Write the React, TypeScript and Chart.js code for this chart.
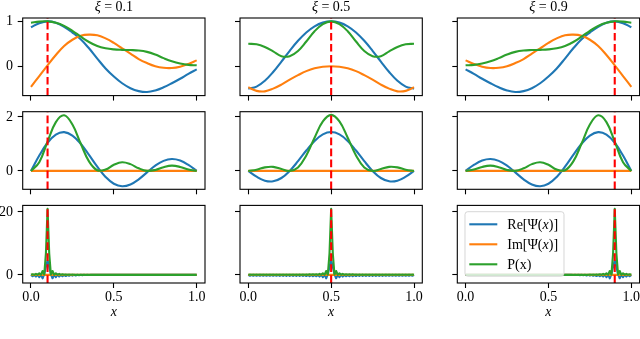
import React, { useEffect, useRef } from 'react';
import { Chart, registerables } from 'chart.js';

Chart.register(...registerables);

// ---------------- data ----------------
const XI_VALUES = [0.1, 0.5, 0.9];
const X_TICKS = [0, 0.5, 1];
const X_TICK_LABELS = ['0.0', '0.5', '1.0'];
const Y_TICKS = [[0, 1], [0, 2], [0, 20]];
const Y_TICK_LABELS = [['0', '1'], ['0', '2'], ['0', '20']];
const Y_LIMITS = [[-0.655, 1.075], [-0.68, 2.19], [-2.6, 22.1]];
const X_LIMITS = [-0.05, 1.05];
const X_AXIS_LABEL = 'x';
// legend labels: [text, italic]
const LEGEND_LABELS: [string, boolean][][] = [
  [['Re[Ψ(', false], ['x', true], [')]', false]],
  [['Im[Ψ(', false], ['x', true], [')]', false]],
  [['P(x)', false]],
];

const X21 = [0, 0.05, 0.1, 0.15, 0.2, 0.25, 0.3, 0.35, 0.4, 0.45, 0.5, 0.55, 0.6, 0.65, 0.7, 0.75, 0.8, 0.85, 0.9, 0.95, 1];
const X101 = [
  0, 0.01, 0.02, 0.03, 0.04, 0.05, 0.06, 0.07, 0.08, 0.09,
  0.1, 0.11, 0.12, 0.13, 0.14, 0.15, 0.16, 0.17, 0.18, 0.19,
  0.2, 0.21, 0.22, 0.23, 0.24, 0.25, 0.26, 0.27, 0.28, 0.29,
  0.3, 0.31, 0.32, 0.33, 0.34, 0.35, 0.36, 0.37, 0.38, 0.39,
  0.4, 0.41, 0.42, 0.43, 0.44, 0.45, 0.46, 0.47, 0.48, 0.49,
  0.5, 0.51, 0.52, 0.53, 0.54, 0.55, 0.56, 0.57, 0.58, 0.59,
  0.6, 0.61, 0.62, 0.63, 0.64, 0.65, 0.66, 0.67, 0.68, 0.69,
  0.7, 0.71, 0.72, 0.73, 0.74, 0.75, 0.76, 0.77, 0.78, 0.79,
  0.8, 0.81, 0.82, 0.83, 0.84, 0.85, 0.86, 0.87, 0.88, 0.89,
  0.9, 0.91, 0.92, 0.93, 0.94, 0.95, 0.96, 0.97, 0.98, 0.99,
  1,
];

// ---- row 1 ----
const RE_R1C1 = [0.87, 0.96, 1.0, 0.97, 0.88, 0.75, 0.6, 0.4, 0.17, -0.05, -0.23, -0.38, -0.49, -0.555, -0.575, -0.54, -0.47, -0.38, -0.28, -0.17, -0.07];
const IM_R1C1 = [-0.46, -0.22, 0.02, 0.25, 0.45, 0.59, 0.68, 0.705, 0.69, 0.62, 0.52, 0.4, 0.28, 0.16, 0.07, 0.0, -0.035, -0.04, -0.01, 0.05, 0.13];
const P_R1C1 = [0.97, 0.995, 1.0, 0.97, 0.9, 0.79, 0.66, 0.54, 0.45, 0.4, 0.375, 0.365, 0.36, 0.35, 0.32, 0.26, 0.18, 0.11, 0.06, 0.03, 0.02];

const RE_R1C2 = [-0.5, -0.454, -0.324, -0.13, 0.103, 0.344, 0.567, 0.752, 0.889, 0.972, 1.0, 0.972, 0.889, 0.752, 0.567, 0.344, 0.103, -0.13, -0.324, -0.454, -0.5];
const IM_R1C2 = [-0.47, -0.55, -0.56, -0.5, -0.41, -0.3, -0.2, -0.11, -0.045, -0.01, 0, -0.01, -0.045, -0.11, -0.2, -0.3, -0.41, -0.5, -0.56, -0.55, -0.47];
const P_R1C2 = [0.5, 0.49, 0.43, 0.33, 0.223, 0.225, 0.34, 0.55, 0.78, 0.94, 1.0, 0.94, 0.78, 0.55, 0.34, 0.225, 0.223, 0.33, 0.43, 0.49, 0.5];

const RE_R1C3 = [-0.07, -0.17, -0.28, -0.38, -0.47, -0.54, -0.575, -0.555, -0.49, -0.38, -0.23, -0.05, 0.17, 0.4, 0.6, 0.75, 0.88, 0.97, 1.0, 0.96, 0.87];
const IM_R1C3 = [0.13, 0.05, -0.01, -0.04, -0.035, 0.0, 0.07, 0.16, 0.28, 0.4, 0.52, 0.62, 0.69, 0.705, 0.68, 0.59, 0.45, 0.25, 0.02, -0.22, -0.46];
const P_R1C3 = [0.02, 0.03, 0.06, 0.11, 0.18, 0.26, 0.32, 0.35, 0.36, 0.365, 0.375, 0.4, 0.45, 0.54, 0.66, 0.79, 0.9, 0.97, 1.0, 0.995, 0.97];

// ---- row 2 ----
const IM_R2 = [0, 0, 0, 0, 0, 0, 0, 0, 0, 0, 0, 0, 0, 0, 0, 0, 0, 0, 0, 0, 0];
const RE_R2C1 = [0, 0.567, 1.041, 1.344, 1.435, 1.309, 1.006, 0.593, 0.156, -0.222, -0.475, -0.567, -0.501, -0.31, -0.056, 0.193, 0.372, 0.441, 0.384, 0.222, 0];
const P_R2C1 = [0, 0.322, 1.083, 1.806, 2.059, 1.714, 1.012, 0.352, 0.024, 0.049, 0.226, 0.322, 0.251, 0.096, 0.003, 0.037, 0.138, 0.194, 0.147, 0.049, 0];
const RE_R2C2 = [0, -0.214, -0.36, -0.384, -0.262, 0, 0.36, 0.754, 1.108, 1.353, 1.44, 1.353, 1.108, 0.754, 0.36, 0, -0.262, -0.384, -0.36, -0.214, 0];
const P_R2C2 = [0, 0.046, 0.13, 0.148, 0.069, 0, 0.13, 0.569, 1.228, 1.83, 2.074, 1.83, 1.228, 0.569, 0.13, 0, 0.069, 0.148, 0.13, 0.046, 0];
const RE_R2C3 = [0, 0.222, 0.384, 0.441, 0.372, 0.193, -0.056, -0.31, -0.501, -0.567, -0.475, -0.222, 0.156, 0.593, 1.006, 1.309, 1.435, 1.344, 1.041, 0.567, 0];
const P_R2C3 = [0, 0.049, 0.147, 0.194, 0.138, 0.037, 0.003, 0.096, 0.251, 0.322, 0.226, 0.049, 0.024, 0.352, 1.012, 1.714, 2.059, 1.806, 1.083, 0.322, 0];

// ---- row 3 ----
const IM_R3 = [
  0, 0, 0, 0, 0, 0, 0, 0, 0, 0,
  0, 0, 0, 0, 0, 0, 0, 0, 0, 0,
  0, 0, 0, 0, 0, 0, 0, 0, 0, 0,
  0, 0, 0, 0, 0, 0, 0, 0, 0, 0,
  0, 0, 0, 0, 0, 0, 0, 0, 0, 0,
  0, 0, 0, 0, 0, 0, 0, 0, 0, 0,
  0, 0, 0, 0, 0, 0, 0, 0, 0, 0,
  0, 0, 0, 0, 0, 0, 0, 0, 0, 0,
  0, 0, 0, 0, 0, 0, 0, 0, 0, 0,
  0, 0, 0, 0, 0, 0, 0, 0, 0, 0,
  0,
];
const RE_R3C1 = [
  0, -0.45, 0, -0.55, 0.05, -0.7, 0.05, -1.1, 0.25, 2.6,
  4.58, 2.6, 0.25, -1.1, 0.05, -0.7, 0.05, -0.55, 0, -0.45,
  0, -0.38, 0, -0.3, 0, -0.24, 0, -0.18, 0, -0.13,
  0, -0.09, 0, -0.06, 0, -0.03, 0, 0, 0, 0,
  0, 0, 0, 0, 0, 0, 0, 0, 0, 0,
  0, 0, 0, 0, 0, 0, 0, 0, 0, 0,
  0, 0, 0, 0, 0, 0, 0, 0, 0, 0,
  0, 0, 0, 0, 0, 0, 0, 0, 0, 0,
  0, 0, 0, 0, 0, 0, 0, 0, 0, 0,
  0, 0, 0, 0, 0, 0, 0, 0, 0, 0,
  0,
];
const P_R3C1 = [
  0, 0.2, 0, 0.3, 0, 0.49, 0, 1.21, 0.06, 6.76,
  21.0, 6.76, 0.06, 1.21, 0, 0.49, 0, 0.3, 0, 0.2,
  0, 0.14, 0, 0.09, 0, 0.06, 0, 0.03, 0, 0.02,
  0, 0, 0, 0, 0, 0, 0, 0, 0, 0,
  0, 0, 0, 0, 0, 0, 0, 0, 0, 0,
  0, 0, 0, 0, 0, 0, 0, 0, 0, 0,
  0, 0, 0, 0, 0, 0, 0, 0, 0, 0,
  0, 0, 0, 0, 0, 0, 0, 0, 0, 0,
  0, 0, 0, 0, 0, 0, 0, 0, 0, 0,
  0, 0, 0, 0, 0, 0, 0, 0, 0, 0,
  0,
];
const RE_R3C2 = [
  0, -0.29, 0, -0.29, 0, -0.29, 0, -0.3, 0, -0.3,
  0, -0.3, 0, -0.3, 0, -0.31, 0, -0.31, 0, -0.32,
  0, -0.32, 0, -0.33, 0, -0.33, 0, -0.34, 0, -0.35,
  0, -0.36, 0, -0.37, 0, -0.38, 0, -0.4, 0, -0.42,
  0, -0.45, 0, -0.55, 0.05, -0.7, 0.05, -1.1, 0.25, 2.6,
  4.58, 2.6, 0.25, -1.1, 0.05, -0.7, 0.05, -0.55, 0, -0.45,
  0, -0.42, 0, -0.4, 0, -0.38, 0, -0.37, 0, -0.36,
  0, -0.35, 0, -0.34, 0, -0.33, 0, -0.33, 0, -0.32,
  0, -0.32, 0, -0.31, 0, -0.31, 0, -0.3, 0, -0.3,
  0, -0.3, 0, -0.3, 0, -0.29, 0, -0.29, 0, -0.29,
  0,
];
const P_R3C2 = [
  0, 0.08, 0, 0.08, 0, 0.08, 0, 0.09, 0, 0.09,
  0, 0.09, 0, 0.09, 0, 0.1, 0, 0.1, 0, 0.1,
  0, 0.1, 0, 0.11, 0, 0.11, 0, 0.12, 0, 0.12,
  0, 0.13, 0, 0.14, 0, 0.14, 0, 0.16, 0, 0.18,
  0, 0.2, 0, 0.3, 0, 0.49, 0, 1.21, 0.06, 6.76,
  21.0, 6.76, 0.06, 1.21, 0, 0.49, 0, 0.3, 0, 0.2,
  0, 0.18, 0, 0.16, 0, 0.14, 0, 0.14, 0, 0.13,
  0, 0.12, 0, 0.12, 0, 0.11, 0, 0.11, 0, 0.1,
  0, 0.1, 0, 0.1, 0, 0.1, 0, 0.09, 0, 0.09,
  0, 0.09, 0, 0.09, 0, 0.08, 0, 0.08, 0, 0.08,
  0,
];
const RE_R3C3 = [
  0, 0, 0, 0, 0, 0, 0, 0, 0, 0,
  0, 0, 0, 0, 0, 0, 0, 0, 0, 0,
  0, 0, 0, 0, 0, 0, 0, 0, 0, 0,
  0, 0, 0, 0, 0, 0, 0, 0, 0, 0,
  0, 0, 0, 0, 0, 0, 0, 0, 0, 0,
  0, 0, 0, 0, 0, 0, 0, 0, 0, 0,
  0, 0, 0, 0, 0, -0.03, 0, -0.06, 0, -0.09,
  0, -0.13, 0, -0.18, 0, -0.24, 0, -0.3, 0, -0.38,
  0, -0.45, 0, -0.55, 0.05, -0.7, 0.05, -1.1, 0.25, 2.6,
  4.58, 2.6, 0.25, -1.1, 0.05, -0.7, 0.05, -0.55, 0, -0.45,
  0,
];
const P_R3C3 = [
  0, 0, 0, 0, 0, 0, 0, 0, 0, 0,
  0, 0, 0, 0, 0, 0, 0, 0, 0, 0,
  0, 0, 0, 0, 0, 0, 0, 0, 0, 0,
  0, 0, 0, 0, 0, 0, 0, 0, 0, 0,
  0, 0, 0, 0, 0, 0, 0, 0, 0, 0,
  0, 0, 0, 0, 0, 0, 0, 0, 0, 0,
  0, 0, 0, 0, 0, 0, 0, 0, 0, 0,
  0, 0.02, 0, 0.03, 0, 0.06, 0, 0.09, 0, 0.14,
  0, 0.2, 0, 0.3, 0, 0.49, 0, 1.21, 0.06, 6.76,
  21.0, 6.76, 0.06, 1.21, 0, 0.49, 0, 0.3, 0, 0.2,
  0,
];

// ---------------- layout / style ----------------
const CANVAS_W = 640;
const CANVAS_H = 339;
const COL_LEFT = [22.7, 240, 457.3];
const ROW_TOP = [18, 111.7, 205.4];
const PLOT_W = 182.3;
const PLOT_H = 77.6;
const LINE_W = 2.1;
const BLUE = '#1f77b4';
const ORANGE = '#ff7f0e';
const GREEN = '#2ca02c';
const RED = '#ff0000';
const SERIF = '"Liberation Serif", "Times New Roman", serif';
const FONT_SIZE = 14;

type Part = [string, boolean];

function fontOf(italic: boolean, size: number) {
  return `${italic ? 'italic ' : ''}${size}px ${SERIF}`;
}

function drawParts(ctx: CanvasRenderingContext2D, parts: Part[], x: number, y: number, size: number, align: 'left' | 'center') {
  let total = 0;
  const widths: number[] = [];
  for (const [t, it] of parts) {
    ctx.font = fontOf(it, size);
    const w = ctx.measureText(t).width;
    widths.push(w);
    total += w;
  }
  let cx = align === 'center' ? x - total / 2 : x;
  ctx.textAlign = 'left';
  ctx.textBaseline = 'alphabetic';
  parts.forEach(([t, it], i) => {
    ctx.font = fontOf(it, size);
    ctx.fillText(t, cx, y);
    cx += widths[i];
  });
}

const framePlugin = {
  id: 'panelFrame',
  afterDraw(chart: any) {
    const { ctx, chartArea: ca } = chart;
    ctx.save();
    ctx.strokeStyle = '#000';
    ctx.lineWidth = 1.1;
    ctx.strokeRect(ca.left, ca.top, ca.right - ca.left, ca.bottom - ca.top);
    ctx.restore();
  },
};

function makeTitlePlugin(xi: number) {
  return {
    id: 'panelTitle',
    afterDraw(chart: any) {
      const { ctx, chartArea: ca } = chart;
      ctx.save();
      ctx.fillStyle = '#000';
      drawParts(ctx, [['ξ', true], [' = ', false], [xi.toFixed(1), false]], (ca.left + ca.right) / 2, ca.top - 7, FONT_SIZE, 'center');
      ctx.restore();
    },
  };
}

const legendPlugin = {
  id: 'panelLegend',
  afterDraw(chart: any) {
    const { ctx, chartArea: ca } = chart;
    const bx = ca.left + 7.7;
    const by = ca.top + 6.3;
    const bw = 99;
    const bh = 64.5;
    const r = 2.8;
    ctx.save();
    ctx.beginPath();
    ctx.moveTo(bx + r, by);
    ctx.lineTo(bx + bw - r, by);
    ctx.arcTo(bx + bw, by, bx + bw, by + r, r);
    ctx.lineTo(bx + bw, by + bh - r);
    ctx.arcTo(bx + bw, by + bh, bx + bw - r, by + bh, r);
    ctx.lineTo(bx + r, by + bh);
    ctx.arcTo(bx, by + bh, bx, by + bh - r, r);
    ctx.lineTo(bx, by + r);
    ctx.arcTo(bx, by, bx + r, by, r);
    ctx.closePath();
    ctx.fillStyle = 'rgba(255,255,255,0.8)';
    ctx.fill();
    ctx.strokeStyle = 'rgba(204,204,204,0.8)';
    ctx.lineWidth = 1;
    ctx.stroke();
    const colors = chart.data.datasets.slice(0, 3).map((d: any) => d.borderColor);
    LEGEND_LABELS.forEach((parts, i) => {
      const y = by + 12.6 + 20 * i;
      ctx.strokeStyle = colors[i];
      ctx.lineWidth = LINE_W;
      ctx.setLineDash([]);
      ctx.beginPath();
      ctx.moveTo(bx + 4.3, y);
      ctx.lineTo(bx + 32.3, y);
      ctx.stroke();
      ctx.fillStyle = '#000';
      drawParts(ctx, parts, bx + 42.3, y + 4.5, FONT_SIZE, 'left');
    });
    ctx.restore();
  },
};

type Panel = { row: number; col: number; xs: number[]; re: number[]; im: number[]; p: number[] };

const PANELS: Panel[] = [
  { row: 0, col: 0, xs: X21, re: RE_R1C1, im: IM_R1C1, p: P_R1C1 },
  { row: 0, col: 1, xs: X21, re: RE_R1C2, im: IM_R1C2, p: P_R1C2 },
  { row: 0, col: 2, xs: X21, re: RE_R1C3, im: IM_R1C3, p: P_R1C3 },
  { row: 1, col: 0, xs: X21, re: RE_R2C1, im: IM_R2, p: P_R2C1 },
  { row: 1, col: 1, xs: X21, re: RE_R2C2, im: IM_R2, p: P_R2C2 },
  { row: 1, col: 2, xs: X21, re: RE_R2C3, im: IM_R2, p: P_R2C3 },
  { row: 2, col: 0, xs: X101, re: RE_R3C1, im: IM_R3, p: P_R3C1 },
  { row: 2, col: 1, xs: X101, re: RE_R3C2, im: IM_R3, p: P_R3C2 },
  { row: 2, col: 2, xs: X101, re: RE_R3C3, im: IM_R3, p: P_R3C3 },
];

function buildConfig(panel: Panel): any {
  const { row, col, xs, re, im, p } = panel;
  const xi = XI_VALUES[col];
  const [ymin, ymax] = Y_LIMITS[row];
  const left = COL_LEFT[col];
  const top = ROW_TOP[row];
  const right = left + PLOT_W;
  const bottom = top + PLOT_H;
  const tension = row < 2 ? 0.4 : 0;
  const showX = row === 2;
  const showY = col === 0;
  const yTicks = Y_TICKS[row];
  const yLabels = Y_TICK_LABELS[row];
  const toPts = (vals: number[]) => xs.map((x, i) => ({ x, y: vals[i] }));
  const series = (label: string, vals: number[], color: string, order: number) => ({
    label,
    data: toPts(vals),
    borderColor: color,
    backgroundColor: color,
    borderWidth: LINE_W,
    pointRadius: 0,
    pointHoverRadius: 0,
    tension,
    fill: false,
    order,
    borderJoinStyle: 'round',
  });
  const plugins: any[] = [framePlugin];
  if (row === 0) plugins.push(makeTitlePlugin(xi));
  if (row === 2 && col === 2) plugins.push(legendPlugin);
  const tickFont = { family: SERIF, size: FONT_SIZE };
  return {
    type: 'line',
    data: {
      datasets: [
        series('Re', re, BLUE, 3),
        series('Im', im, ORANGE, 2),
        series('P', p, GREEN, 1),
        {
          label: 'xi',
          data: [{ x: xi, y: ymin }, { x: xi, y: ymax }],
          borderColor: RED,
          backgroundColor: RED,
          borderWidth: LINE_W,
          borderDash: [7.7, 3.3],
          pointRadius: 0,
          pointHoverRadius: 0,
          tension: 0,
          fill: false,
          order: 0,
        },
      ],
    },
    options: {
      responsive: false,
      maintainAspectRatio: false,
      animation: false,
      devicePixelRatio: 1,
      events: [],
      layout: { padding: { left: 0, top, right: CANVAS_W - right, bottom: 0 } },
      plugins: { legend: { display: false }, tooltip: { enabled: false }, title: { display: false } },
      scales: {
        x: {
          type: 'linear',
          position: 'bottom',
          min: X_LIMITS[0],
          max: X_LIMITS[1],
          afterBuildTicks: (s: any) => {
            s.ticks = X_TICKS.map((v) => ({ value: v }));
          },
          afterFit: (s: any) => {
            s.height = CANVAS_H - bottom;
            s.paddingLeft = 0;
            s.paddingRight = 0;
            s.paddingTop = 0;
            s.paddingBottom = 0;
          },
          ticks: {
            autoSkip: false,
            maxRotation: 0,
            minRotation: 0,
            padding: 1,
            color: '#000',
            font: tickFont,
            callback: (v: number) => (showX ? X_TICK_LABELS[X_TICKS.indexOf(v)] : ''),
          },
          grid: { drawOnChartArea: false, drawTicks: true, tickLength: 5, tickWidth: 1.1, tickColor: '#000' },
          border: { display: false },
          title: {
            display: showX,
            text: X_AXIS_LABEL,
            color: '#000',
            font: { family: SERIF, size: FONT_SIZE, style: 'italic' },
            padding: { top: 0, bottom: 18.4 },
          },
        },
        y: {
          type: 'linear',
          position: 'left',
          min: ymin,
          max: ymax,
          afterBuildTicks: (s: any) => {
            s.ticks = yTicks.map((v) => ({ value: v }));
          },
          afterFit: (s: any) => {
            s.width = left;
            s.paddingTop = 0;
            s.paddingBottom = 0;
            s.paddingLeft = 0;
            s.paddingRight = 0;
          },
          ticks: {
            autoSkip: false,
            padding: 4.7,
            color: '#000',
            font: tickFont,
            callback: (v: number) => (showY ? yLabels[yTicks.indexOf(v)] : ''),
          },
          grid: { drawOnChartArea: false, drawTicks: true, tickLength: 5, tickWidth: 1.1, tickColor: '#000' },
          border: { display: false },
        },
      },
    },
    plugins,
  };
}

export default function App() {
  const refs = useRef<(HTMLCanvasElement | null)[]>([]);

  useEffect(() => {
    const charts = PANELS.map((panel, i) => {
      const canvas = refs.current[i] as HTMLCanvasElement;
      return new Chart(canvas, buildConfig(panel));
    });
    return () => charts.forEach((c) => c.destroy());
  }, []);

  return (
    <div
      style={{
        position: 'fixed',
        left: 0,
        top: 0,
        width: CANVAS_W,
        height: CANVAS_H,
        background: '#fff',
        overflow: 'hidden',
      }}
    >
      {PANELS.map((_, i) => (
        <canvas
          key={i}
          ref={(el) => {
            refs.current[i] = el;
          }}
          width={CANVAS_W}
          height={CANVAS_H}
          style={{ position: 'absolute', left: 0, top: 0, width: CANVAS_W, height: CANVAS_H }}
        />
      ))}
    </div>
  );
}
